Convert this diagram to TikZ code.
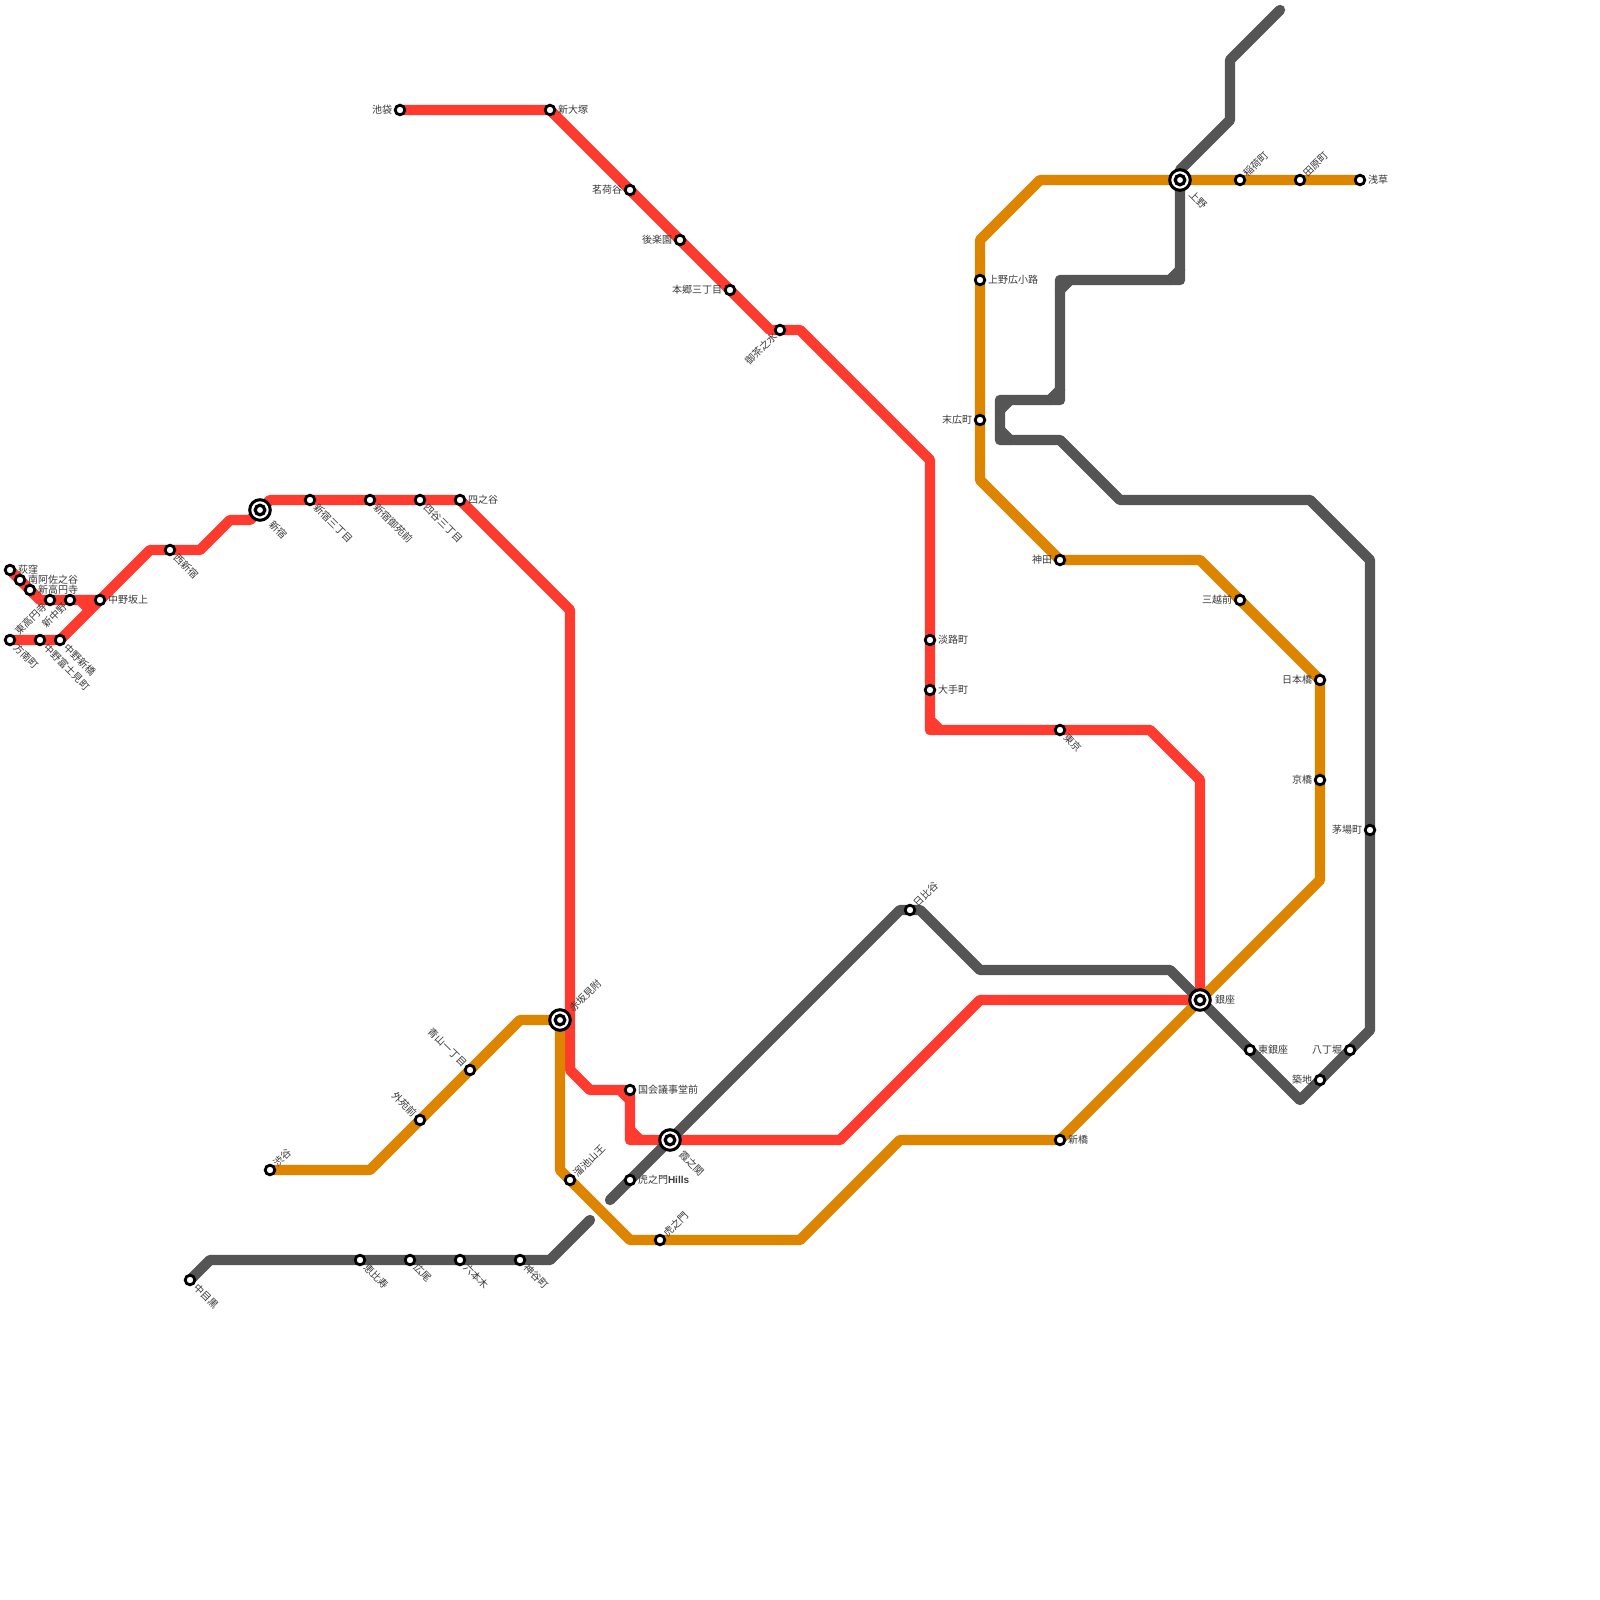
\documentclass[tikz,border=0pt]{standalone}
\usepackage{fontspec}
\setmainfont{Noto Sans CJK JP}
\newfontfamily\latfont{Liberation Sans}
\definecolor{lred}{HTML}{FF3B30}
\definecolor{lorange}{HTML}{DE8500}
\definecolor{lgray}{HTML}{555555}
\definecolor{ltext}{HTML}{3A3A3A}
\pgfdeclarelayer{lines}
\pgfsetlayers{lines,main}
\tikzset{
  stn/.style={circle,draw=black,fill=white,line width=2.8pt,inner sep=0pt,outer sep=0pt,minimum size=9.6pt},
  bigstn/.style={circle,draw=black,fill=white,line width=3pt,inner sep=0pt,outer sep=0pt,minimum size=20.6pt,
    path picture={\draw[black,line width=3.2pt] (path picture bounding box.center) circle (4.8pt);}},
  lbl/.style={font=\fontsize{10}{10}\selectfont,text=ltext,inner sep=0pt,outer sep=0pt},
  lR/.style={lbl,xshift=8pt,anchor=west},
  lL/.style={lbl,xshift=-8pt,anchor=east},
  lDR/.style={lbl,xshift=5.5pt,yshift=-6pt,rotate=-45,anchor=west},
  lUR/.style={lbl,xshift=5pt,yshift=5pt,rotate=45,anchor=west},
  lDL/.style={lbl,xshift=-5pt,yshift=-5pt,rotate=45,anchor=east},
  lUL/.style={lbl,xshift=-5pt,yshift=5pt,rotate=-45,anchor=east},
  lbR/.style={lbl,xshift=15pt,anchor=west},
  lbDR/.style={lbl,xshift=11pt,yshift=-12.5pt,rotate=-45,anchor=west},
  lbUR/.style={lbl,xshift=11pt,yshift=10pt,rotate=45,anchor=west},
  tube/.style={line width=10.4pt,line join=round,line cap=round},
  redline/.style={tube,draw=lred},
  orangeline/.style={tube,draw=lorange},
  grayline/.style={tube,draw=lgray},
}
\newcommand{\stnode}[5]{\node[stn] (#1) at (#2,#3) {}; \node[#4] (#1l) at (#2,#3) {#5};}
\newcommand{\bignode}[5]{\node[bigstn] (#1) at (#2,#3) {}; \node[#4] (#1l) at (#2,#3) {#5};}
\begin{document}
\begin{tikzpicture}[x=1pt,y=-1pt]
\useasboundingbox (0,0) rectangle (1600,1600);
% red stations
\stnode{ogikubo}{10}{570}{lR}{荻窪}
\stnode{asagaya}{20}{580}{lR}{南阿佐之谷}
\stnode{koenji}{30}{590}{lR}{新高円寺}
\stnode{higashi}{50}{600}{lDL}{東高円寺}
\stnode{shinnaka}{70}{600}{lDL}{新中野}
\stnode{sakaue}{100}{600}{lR}{中野坂上}
\stnode{honan}{10}{640}{lDR}{方南町}
\stnode{fujimi}{40}{640}{lDR}{中野富士見町}
\stnode{shinbashin}{60}{640}{lDR}{中野新橋}
\stnode{nishi}{170}{550}{lDR}{西新宿}
\bignode{shinjuku}{260}{510}{lbDR}{新宿}
\stnode{sanchome}{310}{500}{lDR}{新宿三丁目}
\stnode{gyoen}{370}{500}{lDR}{新宿御苑前}
\stnode{yonsan}{420}{500}{lDR}{四谷三丁目}
\stnode{yotsuya}{460}{500}{lR}{四之谷}
\stnode{ikebukuro}{400}{110}{lL}{池袋}
\stnode{otsuka}{550}{110}{lR}{新大塚}
\stnode{myoga}{630}{190}{lL}{茗荷谷}
\stnode{korakuen}{680}{240}{lL}{後楽園}
\stnode{hongo}{730}{290}{lL}{本郷三丁目}
\stnode{ochanomizu}{780}{330}{lDL}{御茶之水}
\stnode{awaji}{930}{640}{lR}{淡路町}
\stnode{otemachi}{930}{690}{lR}{大手町}
\stnode{tokyo}{1060}{730}{lDR}{東京}
\bignode{ginza}{1200}{1000}{lbR}{銀座}
\bignode{kasumi}{670}{1140}{lbDR}{霞之関}
\stnode{kokkai}{630}{1090}{lR}{国会議事堂前}
\bignode{akasaka}{560}{1020}{lbUR}{赤坂見附}
% orange stations
\stnode{shibuya}{270}{1170}{lUR}{渋谷}
\stnode{gaien}{420}{1120}{lUL}{外苑前}
\stnode{aoyama}{470}{1070}{lUL}{青山一丁目}
\stnode{tameike}{570}{1180}{lUR}{溜池山王}
\stnode{toranomon}{660}{1240}{lUR}{虎之門}
\stnode{shinbashi}{1060}{1140}{lR}{新橋}
\stnode{kyobashi}{1320}{780}{lL}{京橋}
\stnode{nihonbashi}{1320}{680}{lL}{日本橋}
\stnode{mitsukoshi}{1240}{600}{lL}{三越前}
\stnode{kanda}{1060}{560}{lL}{神田}
\stnode{suehiro}{980}{420}{lL}{末広町}
\stnode{hirokoji}{980}{280}{lR}{上野広小路}
\bignode{ueno}{1180}{180}{lbDR}{上野}
\stnode{inari}{1240}{180}{lUR}{稲荷町}
\stnode{tawara}{1300}{180}{lUR}{田原町}
\stnode{asakusa}{1360}{180}{lR}{浅草}
% gray stations
\stnode{naka}{190}{1280}{lDR}{中目黒}
\stnode{ebisu}{360}{1260}{lDR}{恵比寿}
\stnode{hiroo}{410}{1260}{lDR}{広尾}
\stnode{roppongi}{460}{1260}{lDR}{六本木}
\stnode{kamiya}{520}{1260}{lDR}{神谷町}
\stnode{hills}{630}{1180}{lR}{虎之門{\latfont\bfseries Hills}}
\stnode{hibiya}{910}{910}{lUR}{日比谷}
\stnode{higinza}{1250}{1050}{lR}{東銀座}
\stnode{tsukiji}{1320}{1080}{lL}{築地}
\stnode{hatcho}{1350}{1050}{lL}{八丁堀}
\stnode{kayaba}{1370}{830}{lL}{茅場町}
\begin{pgfonlayer}{lines}
\fill[white] (0,0) rectangle (1600,1600);
% red
\draw[redline] (ikebukuro.center)--(otsuka.center)--(myoga.center)--(korakuen.center)--(hongo.center)--(770,330)--(ochanomizu.center)--(800,330)--(930,460)--(awaji.center)--(otemachi.center)--(930,730)--(tokyo.center)--(1150,730)--(1200,780)--(ginza.center)--(980,1000)--(840,1140)--(kasumi.center)--(630,1140)--(kokkai.center)--(590,1090)--(570,1070)--(570,610)--(yotsuya.center)--(yonsan.center)--(gyoen.center)--(sanchome.center)--(270,500)--(shinjuku.center)--(250,520)--(230,520)--(200,550)--(nishi.center)--(150,550)--(sakaue.center)--(shinbashin.center)--(fujimi.center)--(honan.center);
\draw[redline] (ogikubo.center)--(asagaya.center)--(koenji.center)--(40,600)--(higashi.center)--(shinnaka.center)--(sakaue.center);
\draw[redline] (80,600)--(90,610);
\draw[redline] (930,720)--(940,730);
\draw[redline] (620,1090)--(630,1100);
\draw[redline] (630,1130)--(640,1140);
% orange
\draw[orangeline] (shibuya.center)--(370,1170)--(gaien.center)--(aoyama.center)--(520,1020)--(akasaka.center)--(560,1170)--(tameike.center)--(630,1240)--(toranomon.center)--(800,1240)--(900,1140)--(shinbashi.center)--(ginza.center)--(1320,880)--(kyobashi.center)--(nihonbashi.center)--(mitsukoshi.center)--(1200,560)--(kanda.center)--(980,480)--(suehiro.center)--(hirokoji.center)--(980,240)--(1040,180)--(ueno.center)--(inari.center)--(tawara.center)--(asakusa.center);
% gray
\draw[grayline] (naka.center)--(210,1260)--(ebisu.center)--(hiroo.center)--(roppongi.center)--(kamiya.center)--(550,1260)--(590,1220);
\draw[grayline] (610,1200)--(hills.center)--(kasumi.center)--(900,910)--(hibiya.center)--(920,910)--(980,970)--(1170,970)--(ginza.center)--(higinza.center)--(1300,1100)--(tsukiji.center)--(hatcho.center)--(1370,1030)--(kayaba.center)--(1370,560)--(1310,500)--(1120,500)--(1060,440)--(1000,440)--(1000,400)--(1060,400)--(1060,280)--(1180,280)--(ueno.center)--(1180,170)--(1230,120)--(1230,60)--(1280,10);
\draw[grayline] (1180,270)--(1170,280);
\draw[grayline] (1060,290)--(1070,280);
\draw[grayline] (1060,390)--(1050,400);
\draw[grayline] (1000,410)--(1010,400);
\draw[grayline] (1000,430)--(1010,440);
\end{pgfonlayer}
\end{tikzpicture}
\end{document}
